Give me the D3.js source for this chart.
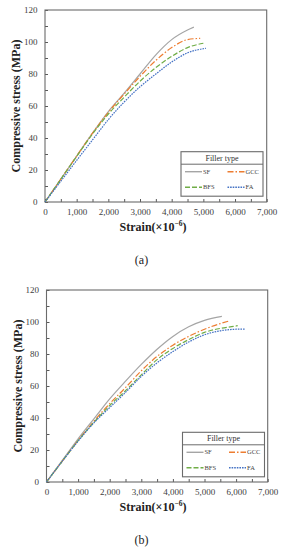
<!DOCTYPE html>
<html>
<head>
<meta charset="utf-8">
<script src="https://cdn.jsdelivr.net/npm/d3@7"></script>
<style>
  body { margin: 0; background: #fff; }
  svg { display: block; }
</style>
</head>
<body>
<div id="chart"></div>
<script>
// tick values and labels
const xMajor = [0, 1000, 2000, 3000, 4000, 5000, 6000, 7000];
const xMinor = [0, 500, 1000, 1500, 2000, 2500, 3000, 3500, 4000, 4500, 5000, 5500, 6000, 6500, 7000];
const yMajor = [0, 20, 40, 60, 80, 100, 120];
const yMinor = [0, 10, 20, 30, 40, 50, 60, 70, 80, 90, 100, 110, 120];

const seriesNames = ["SF", "GCC", "BFS", "FA"];
const seriesColors = ["#a5a5a5", "#ed7d31", "#70ad47", "#4472c4"];
const seriesDash = [null, "6,2,1.5,2", "5,2", "1.6,1"];

// panel (a) - strain (x10^-6) / stress (MPa)
const sfStrainA  = [0, 500, 1000, 1500, 2000, 2500, 3000, 3500, 4000, 4500, 4700];
const sfStressA  = [0, 14.3, 28.7, 43, 56.5, 68, 80, 92, 101.5, 107.5, 109.3];
const gccStrainA = [0, 500, 1000, 1500, 2000, 2500, 3000, 3500, 4000, 4500, 4900];
const gccStressA = [0, 14.3, 28.7, 43, 56, 67.5, 78.5, 88.5, 96.5, 101.5, 102.3];
const bfsStrainA = [0, 500, 1000, 1500, 2000, 2500, 3000, 3500, 4000, 4500, 5000];
const bfsStressA = [0, 14.3, 28.5, 42.5, 55, 65.5, 75.5, 84, 91, 96.5, 99.2];
const faStrainA  = [0, 500, 1000, 1500, 2000, 2500, 3000, 3500, 4000, 4500, 5000, 5080];
const faStressA  = [0, 13, 26, 38.8, 51.5, 62.5, 72, 80, 87.5, 93.2, 95.8, 96];

// panel (b)
const sfStrainB  = [0, 500, 1000, 1500, 2000, 2500, 3000, 3500, 4000, 4500, 5000, 5550];
const sfStressB  = [0, 13.5, 27, 39.5, 52, 63, 73.5, 83, 91, 97, 101, 103.5];
const gccStrainB = [0, 500, 1000, 1500, 2000, 2500, 3000, 3500, 4000, 4500, 5000, 5500, 5750];
const gccStressB = [0, 13, 26, 38, 49, 59, 69.5, 78.5, 85.5, 91, 95.5, 99, 100.5];
const bfsStrainB = [0, 500, 1000, 1500, 2000, 2500, 3000, 3500, 4000, 4500, 5000, 5500, 6000, 6050];
const bfsStressB = [0, 13, 25.8, 37.3, 47.8, 57, 67, 76.5, 83.5, 89, 93.5, 96, 97.5, 97.7];
const faStrainB  = [0, 500, 1000, 1500, 2000, 2500, 3000, 3500, 4000, 4500, 5000, 5500, 6000, 6300];
const faStressB  = [0, 13, 25.5, 37, 46.5, 56, 66, 74.5, 81.5, 87.5, 92, 94.5, 95.5, 95.6];

const W = 281, H = 550;
const serif = "'Liberation Serif', 'DejaVu Serif', serif";

const svg = d3.select("#chart").append("svg")
    .attr("width", W).attr("height", H);

function zip(xs, ys) { return xs.map((x, i) => [x, ys[i]]); }

function drawPanel(p) {
    const x = d3.scaleLinear().domain([0, 7000]).range([p.left, p.right]);
    const y = d3.scaleLinear().domain([0, 120]).range([p.bottom, p.top]);
    const g = svg.append("g");

    // axes with inner ticks
    const xAxis = g.append("g")
        .attr("transform", `translate(0,${p.bottom})`)
        .call(d3.axisBottom(x).tickValues(xMinor).tickSize(-3).tickPadding(6.5)
            .tickFormat(d => xMajor.includes(d) ? d3.format(",")(d) : ""));
    const yAxis = g.append("g")
        .attr("transform", `translate(${p.left},0)`)
        .call(d3.axisLeft(y).tickValues(yMinor).tickSize(-3).tickPadding(7.5)
            .tickFormat(d => yMajor.includes(d) ? d : ""));
    [xAxis, yAxis].forEach(a => {
        a.select(".domain").remove();
        a.selectAll("line").attr("stroke", "#595959");
        a.selectAll("text").attr("font-family", serif).attr("font-size", 9).attr("fill", "#404040");
    });

    // frame
    g.append("rect")
        .attr("x", p.left).attr("y", p.top)
        .attr("width", p.right - p.left).attr("height", p.bottom - p.top)
        .attr("fill", "none").attr("stroke", "#6b6b6b").attr("stroke-width", 1.1);

    // curves
    const line = d3.line().x(d => x(d[0])).y(d => y(d[1])).curve(d3.curveMonotoneX);
    p.series.forEach((s, i) => {
        g.append("path")
            .attr("d", line(s))
            .attr("fill", "none")
            .attr("stroke", seriesColors[i])
            .attr("stroke-width", 1.2)
            .attr("stroke-dasharray", seriesDash[i]);
    });

    // axis titles
    g.append("text")
        .attr("transform", `translate(${p.left - 29},${(p.top + p.bottom) / 2}) rotate(-90)`)
        .attr("text-anchor", "middle").attr("dy", "0.35em")
        .attr("font-family", serif).attr("font-weight", "bold").attr("font-size", 12).attr("fill", "#222")
        .text("Compressive stress (MPa)");
    const xt = g.append("text")
        .attr("x", 153).attr("y", p.bottom + 28.5)
        .attr("text-anchor", "middle")
        .attr("font-family", serif).attr("font-weight", "bold").attr("font-size", 12).attr("fill", "#222");
    xt.append("tspan").text("Strain(\u00d710");
    xt.append("tspan").attr("dy", -4.5).attr("font-size", 7.5).text("\u22126");
    xt.append("tspan").attr("dy", 4.5).text(")");

    g.append("text")
        .attr("x", 141.5).attr("y", p.bottom + 62)
        .attr("text-anchor", "middle")
        .attr("font-family", serif).attr("font-size", 12).attr("fill", "#222")
        .text(p.label);

    // legend
    const lg = g.append("g").attr("transform", `translate(${p.legX},${p.legY})`);
    lg.append("rect").attr("width", 82).attr("height", 44.5)
        .attr("fill", "#fff").attr("stroke", "#6b6b6b").attr("stroke-width", 1.1);
    lg.append("line").attr("x1", 0).attr("x2", 82).attr("y1", 12.5).attr("y2", 12.5)
        .attr("stroke", "#6b6b6b").attr("stroke-width", 1);
    lg.append("text").attr("x", 41).attr("y", 9)
        .attr("text-anchor", "middle")
        .attr("font-family", serif).attr("font-size", 8).attr("fill", "#333")
        .text("Filler type");
    seriesNames.forEach((name, i) => {
        const cx = i % 2 === 0 ? 4 : 46.5;
        const cy = i < 2 ? 20 : 35.5;
        lg.append("line")
            .attr("x1", cx).attr("x2", cx + 17)
            .attr("y1", cy).attr("y2", cy)
            .attr("stroke", seriesColors[i]).attr("stroke-width", 1.4)
            .attr("stroke-dasharray", seriesDash[i]);
        lg.append("text").attr("x", cx + 18).attr("y", cy).attr("dy", "0.33em")
            .attr("font-family", serif).attr("font-size", 6.5).attr("fill", "#444")
            .text(name);
    });
}

drawPanel({
    left: 45, right: 266.7, top: 10, bottom: 202, label: "(a)",
    legX: 181, legY: 151.7,
    series: [zip(sfStrainA, sfStressA), zip(gccStrainA, gccStressA),
             zip(bfsStrainA, bfsStressA), zip(faStrainA, faStressA)]
});
drawPanel({
    left: 46.5, right: 267.7, top: 290, bottom: 482, label: "(b)",
    legX: 182.5, legY: 432.3,
    series: [zip(sfStrainB, sfStressB), zip(gccStrainB, gccStressB),
             zip(bfsStrainB, bfsStressB), zip(faStrainB, faStressB)]
});
</script>
</body>
</html>
